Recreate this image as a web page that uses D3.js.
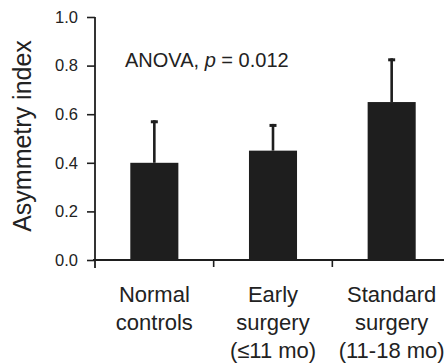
<!DOCTYPE html>
<html>
<head>
<meta charset="utf-8">
<script src="https://cdn.jsdelivr.net/npm/d3@7"></script>
<style>
  body { margin: 0; background: #fff; }
  svg { display: block; font-family: "Liberation Sans", Arial, sans-serif; }
</style>
</head>
<body>
<svg width="444" height="364"></svg>
<script>
const categories = ["Normal controls", "Early surgery", "Standard surgery"];
const categoryLines = [
    ["Normal", "controls"],
    ["Early", "surgery", "(≤11 mo)"],
    ["Standard", "surgery", "(11-18 mo)"]
];
const means = [0.40, 0.45, 0.65];
const errTops = [0.575, 0.56, 0.83];
const yTicks = [0.0, 0.2, 0.4, 0.6, 0.8, 1.0];

const ink = "#1e1e1e";
const svg = d3.select("svg");

const x = d3.scaleBand()
    .domain(categories)
    .range([95, 451])
    .paddingInner(0.595)
    .paddingOuter(0.2975);

const y = d3.scaleLinear()
    .domain([0, 1])
    .range([260, 17]);

// Y axis
const yAxis = svg.append("g")
    .attr("transform", "translate(95,0)")
    .call(d3.axisLeft(y)
        .tickValues(yTicks)
        .tickSize(8)
        .tickSizeOuter(0)
        .tickPadding(9)
        .tickFormat(d3.format(".1f")));
yAxis.select(".domain").remove();
yAxis.selectAll("line").attr("stroke", ink).attr("stroke-width", 1.6);
yAxis.selectAll("text")
    .attr("fill", "#222")
    .style("font-size", "16.5px")
    .style("font-family", "'Liberation Sans', Arial, sans-serif");

svg.append("line")
    .attr("x1", 95).attr("x2", 95)
    .attr("y1", y(1)).attr("y2", y(0) + 8)
    .attr("stroke", ink).attr("stroke-width", 1.8);

// X axis line and boundary ticks
svg.append("line")
    .attr("x1", 93).attr("x2", 451)
    .attr("y1", y(0)).attr("y2", y(0))
    .attr("stroke", ink).attr("stroke-width", 2);

svg.selectAll(".xtick")
    .data(d3.range(1, categories.length))
    .enter().append("line")
    .attr("class", "xtick")
    .attr("x1", i => x.range()[0] + i * x.step())
    .attr("x2", i => x.range()[0] + i * x.step())
    .attr("y1", y(0)).attr("y2", y(0) + 7)
    .attr("stroke", ink).attr("stroke-width", 1.6);

// Error bars
svg.selectAll(".err")
    .data(categories)
    .enter().append("line")
    .attr("class", "err")
    .attr("x1", d => x(d) + x.bandwidth() / 2)
    .attr("x2", d => x(d) + x.bandwidth() / 2)
    .attr("y1", (d, i) => y(means[i]))
    .attr("y2", (d, i) => y(errTops[i]))
    .attr("stroke", ink).attr("stroke-width", 2.6);

svg.selectAll(".cap")
    .data(categories)
    .enter().append("line")
    .attr("class", "cap")
    .attr("x1", d => x(d) + x.bandwidth() / 2 - 3.5)
    .attr("x2", d => x(d) + x.bandwidth() / 2 + 3.5)
    .attr("y1", (d, i) => y(errTops[i]) + 1.5)
    .attr("y2", (d, i) => y(errTops[i]) + 1.5)
    .attr("stroke", ink).attr("stroke-width", 3);

// Bars
svg.selectAll(".bar")
    .data(categories)
    .enter().append("rect")
    .attr("class", "bar")
    .attr("x", d => x(d))
    .attr("width", x.bandwidth())
    .attr("y", (d, i) => y(means[i]))
    .attr("height", (d, i) => y(0) - y(means[i]))
    .attr("fill", ink);

// Category labels
const catText = svg.selectAll(".cat")
    .data(categories)
    .enter().append("text")
    .attr("class", "cat")
    .attr("text-anchor", "middle")
    .attr("fill", "#222")
    .style("font-size", "22px");
catText.each(function(d, i) {
    d3.select(this).selectAll("tspan")
        .data(categoryLines[i])
        .enter().append("tspan")
        .attr("x", x(d) + x.bandwidth() / 2)
        .attr("y", (t, j) => 302 + j * 28)
        .text(t => t);
});

// Y axis title
svg.append("text")
    .attr("transform", "translate(31,136) rotate(-90)")
    .attr("text-anchor", "middle")
    .attr("fill", "#222")
    .style("font-size", "25px")
    .text("Asymmetry index");

// ANOVA annotation
const anova = svg.append("text")
    .attr("x", 125).attr("y", 67)
    .attr("fill", "#222")
    .style("font-size", "20px");
anova.append("tspan").text("ANOVA, ");
anova.append("tspan").style("font-style", "italic").text("p");
anova.append("tspan").text(" = 0.012");
</script>
</body>
</html>
